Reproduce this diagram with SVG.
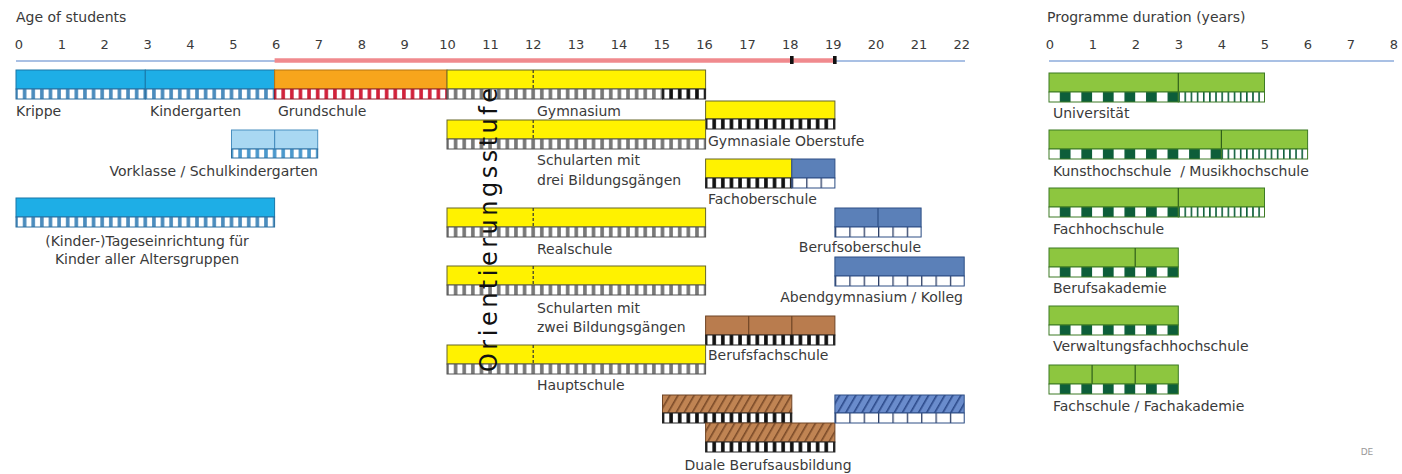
<svg xmlns="http://www.w3.org/2000/svg" width="1402" height="474" viewBox="0 0 1402 474">
<style>
text{font-family:"DejaVu Sans","Liberation Sans",sans-serif;fill:#3a3a3a;font-size:14px}
.ax{font-size:13px;text-anchor:middle}
.lbl{font-size:14px}
.end{text-anchor:end}
.mid{text-anchor:middle}
.cyan{fill:#1eaee6;stroke:#1877a8;stroke-width:1}
.lcyan{fill:#a9d8f2;stroke:#4a90c0;stroke-width:1}
.orange{fill:#f7a51c;stroke:#b87610;stroke-width:1}
.yellow{fill:#fff200;stroke:#66662a;stroke-width:1}
.steel{fill:#5b80b8;stroke:#2e4f85;stroke-width:1}
.brown{fill:#b97c4e;stroke:#6f4526;stroke-width:1}
.green{fill:#8dc63f;stroke:#3d7a25;stroke-width:1}
.s{stroke-width:1}
.sb{stroke:#2c6f9f}
.sr{stroke:#8f1a28}
.sg{stroke:#555}
.sk{stroke:#222}
.sc{stroke:#2e4f85}
.sgr{stroke:#3d7a25}
.dv{stroke-width:1.2}
.dash{stroke:#333;stroke-width:1.2;stroke-dasharray:3 2}
.axl{stroke:#a9c0e4;stroke-width:2;fill:none}
</style>
<defs>
<pattern id="chkBlue" patternUnits="userSpaceOnUse" x="16" y="0" width="8.62" height="10"><rect width="8.62" height="10" fill="#4b8cbd"/><rect x="1.8" width="5" height="10" fill="#fff"/></pattern>
<pattern id="chkLB" patternUnits="userSpaceOnUse" x="16" y="0" width="8.62" height="10"><rect width="8.62" height="10" fill="#4a98cc"/><rect x="1.8" width="5" height="10" fill="#fff"/></pattern>
<pattern id="chkRed" patternUnits="userSpaceOnUse" x="16" y="0" width="8.62" height="10"><rect width="8.62" height="10" fill="#d1213a"/><rect x="1.8" width="5" height="10" fill="#fff"/></pattern>
<pattern id="chkGrey" patternUnits="userSpaceOnUse" x="16" y="0" width="8.62" height="10"><rect width="8.62" height="10" fill="#777"/><rect x="1.8" width="5" height="10" fill="#fff"/></pattern>
<pattern id="chkBlack" patternUnits="userSpaceOnUse" x="16" y="0" width="8.62" height="10"><rect width="8.62" height="10" fill="#111"/><rect x="1.8" width="5" height="10" fill="#fff"/></pattern>
<pattern id="cells" patternUnits="userSpaceOnUse" x="16" y="0" width="14.367" height="10"><rect width="14.367" height="10" fill="#fff"/><rect width="1.3" height="10" fill="#2d3f66"/></pattern>
<pattern id="chkGreen" patternUnits="userSpaceOnUse" x="1049" y="0" width="21.55" height="10"><rect width="21.55" height="10" fill="#fff"/><rect x="10.8" width="10.75" height="10" fill="#0d5e3a"/></pattern>
<pattern id="thinGreen" patternUnits="userSpaceOnUse" x="1049" y="0" width="6.157" height="10"><rect width="6.157" height="10" fill="#fff"/><rect width="1.6" height="10" fill="#0d5e3a"/></pattern>
<pattern id="hatchBrown" patternUnits="userSpaceOnUse" width="7" height="20" patternTransform="rotate(30)"><rect width="7" height="20" fill="#c08453"/><rect width="1.6" height="20" fill="#7a4a28"/></pattern>
<pattern id="hatchBlue" patternUnits="userSpaceOnUse" width="7" height="20" patternTransform="rotate(30)"><rect width="7" height="20" fill="#6a8ccc"/><rect width="1.6" height="20" fill="#2c4a8a"/></pattern>
</defs>

<g id="axis-age">
<text x="16" y="22">Age of students</text>
<text class="ax" x="19" y="49">0</text><text class="ax" x="61.9" y="49">1</text><text class="ax" x="104.7" y="49">2</text><text class="ax" x="147.6" y="49">3</text><text class="ax" x="190.4" y="49">4</text><text class="ax" x="233.3" y="49">5</text><text class="ax" x="276.1" y="49">6</text><text class="ax" x="319" y="49">7</text><text class="ax" x="361.8" y="49">8</text><text class="ax" x="404.7" y="49">9</text><text class="ax" x="447.5" y="49">10</text><text class="ax" x="490.4" y="49">11</text><text class="ax" x="533.2" y="49">12</text><text class="ax" x="576.1" y="49">13</text><text class="ax" x="618.9" y="49">14</text><text class="ax" x="661.8" y="49">15</text><text class="ax" x="704.6" y="49">16</text><text class="ax" x="747.5" y="49">17</text><text class="ax" x="790.3" y="49">18</text><text class="ax" x="833.2" y="49">19</text><text class="ax" x="876" y="49">20</text><text class="ax" x="918.9" y="49">21</text><text class="ax" x="961.7" y="49">22</text>
<line class="axl" x1="16" y1="61" x2="965" y2="61"/>
<line x1="274.6" y1="60.5" x2="834.9" y2="60.5" stroke="#f08a8e" stroke-width="4.5"/>
<rect x="790" y="56" width="3.6" height="8" fill="#111"/>
<rect x="833" y="56" width="3.6" height="8" fill="#111"/>
</g>

<g id="axis-duration">
<text x="1047" y="22">Programme duration (years)</text>
<text class="ax" x="1050" y="49">0</text><text class="ax" x="1093" y="49">1</text><text class="ax" x="1136" y="49">2</text><text class="ax" x="1179" y="49">3</text><text class="ax" x="1222" y="49">4</text><text class="ax" x="1265" y="49">5</text><text class="ax" x="1308" y="49">6</text><text class="ax" x="1351" y="49">7</text><text class="ax" x="1394" y="49">8</text>
<line class="axl" x1="1049" y1="61" x2="1394" y2="61"/>
</g>

<g id="connectors"/>

<g id="krippe">
<rect class="cyan" x="16" y="70" width="129.3" height="19"/>
<rect x="16" y="89" width="129.3" height="10" fill="url(#chkBlue)" class="s sb"/>
<text class="lbl" x="16" y="116">Krippe</text>
</g>
<g id="kindergarten">
<rect class="cyan" x="145.3" y="70" width="129.3" height="19"/>
<rect x="145.3" y="89" width="129.3" height="10" fill="url(#chkBlue)" class="s sb"/>
<text class="lbl" x="150" y="116">Kindergarten</text>
</g>
<g id="grundschule">
<rect class="orange" x="274.6" y="70" width="172.4" height="19"/>
<rect x="274.6" y="89" width="172.4" height="10" fill="url(#chkRed)" class="s sr"/>
<text class="lbl" x="278" y="116">Grundschule</text>
</g>
<g id="gymnasium">
<rect class="yellow" x="447" y="70" width="258.6" height="19"/>
<line class="dash" x1="533.2" y1="70" x2="533.2" y2="89"/>
<rect x="447" y="89" width="215.5" height="10" fill="url(#chkGrey)" class="s sg"/>
<rect x="662.5" y="89" width="43.1" height="10" fill="url(#chkBlack)" class="s sk"/>
<text class="lbl" x="537" y="116">Gymnasium</text>
</g>
<g id="gymnasiale-oberstufe">
<rect class="yellow" x="705.6" y="101" width="129.3" height="18"/>
<rect x="705.6" y="119" width="129.3" height="10" fill="url(#chkBlack)" class="s sk"/>
<text class="lbl" x="708" y="146">Gymnasiale Oberstufe</text>
</g>
<g id="schularten-drei">
<rect class="yellow" x="447" y="120" width="258.6" height="19"/>
<line class="dash" x1="533.2" y1="120" x2="533.2" y2="139"/>
<rect x="447" y="139" width="258.6" height="10" fill="url(#chkGrey)" class="s sg"/>
<text class="lbl" x="537" y="165">Schularten mit</text>
<text class="lbl" x="537" y="185">drei Bildungsgängen</text>
</g>
<g id="vorklasse">
<rect class="lcyan" x="231.5" y="130" width="86.2" height="19"/>
<line x1="274.6" y1="130" x2="274.6" y2="149" stroke="#4a90c0" class="dv"/>
<rect x="231.5" y="149" width="86.2" height="9" fill="url(#chkLB)" class="s sb"/>
<text class="lbl end" x="318" y="176">Vorklasse / Schulkindergarten</text>
</g>
<g id="fachoberschule">
<rect class="yellow" x="705.6" y="159" width="86.2" height="19"/>
<rect class="steel" x="791.8" y="159" width="43.1" height="19"/>
<rect x="705.6" y="178" width="86.2" height="10" fill="url(#chkBlack)" class="s sk"/>
<rect x="791.8" y="178" width="43.1" height="10" fill="url(#cells)" class="s sc"/>
<text class="lbl" x="708" y="204">Fachoberschule</text>
</g>
<g id="tageseinrichtung">
<rect class="cyan" x="16" y="198" width="258.6" height="19"/>
<rect x="16" y="217" width="258.6" height="10" fill="url(#chkBlue)" class="s sb"/>
<text class="lbl mid" x="147" y="246">(Kinder-)Tageseinrichtung für</text>
<text class="lbl mid" x="147" y="264">Kinder aller Altersgruppen</text>
</g>
<g id="realschule">
<rect class="yellow" x="447" y="208" width="258.6" height="19"/>
<line class="dash" x1="533.2" y1="208" x2="533.2" y2="227"/>
<rect x="447" y="227" width="258.6" height="10" fill="url(#chkGrey)" class="s sg"/>
<text class="lbl" x="537" y="254">Realschule</text>
</g>
<g id="berufsoberschule">
<rect class="steel" x="834.9" y="208" width="86.2" height="19"/>
<line x1="878" y1="208" x2="878" y2="227" stroke="#2e4f85" class="dv"/>
<rect x="834.9" y="227" width="86.2" height="10" fill="url(#cells)" class="s sc"/>
<text class="lbl end" x="921" y="252">Berufsoberschule</text>
</g>
<g id="abendgymnasium">
<rect class="steel" x="834.9" y="257" width="129.3" height="19"/>
<rect x="834.9" y="276" width="129.3" height="10" fill="url(#cells)" class="s sc"/>
<text class="lbl end" x="963" y="302">Abendgymnasium / Kolleg</text>
</g>
<g id="schularten-zwei">
<rect class="yellow" x="447" y="266" width="258.6" height="19"/>
<line class="dash" x1="533.2" y1="266" x2="533.2" y2="285"/>
<rect x="447" y="285" width="258.6" height="10" fill="url(#chkGrey)" class="s sg"/>
<text class="lbl" x="537" y="313">Schularten mit</text>
<text class="lbl" x="537" y="332">zwei Bildungsgängen</text>
</g>
<g id="berufsfachschule">
<rect class="brown" x="705.6" y="316" width="129.3" height="19"/>
<line x1="748.7" y1="316" x2="748.7" y2="335" stroke="#6f4526" class="dv"/>
<line x1="791.8" y1="316" x2="791.8" y2="335" stroke="#6f4526" class="dv"/>
<rect x="705.6" y="335" width="129.3" height="10" fill="url(#chkBlack)" class="s sk"/>
<text class="lbl" x="708" y="360">Berufsfachschule</text>
</g>
<g id="hauptschule">
<rect class="yellow" x="447" y="345" width="258.6" height="19"/>
<line class="dash" x1="533.2" y1="345" x2="533.2" y2="364"/>
<rect x="447" y="364" width="258.6" height="10" fill="url(#chkGrey)" class="s sg"/>
<text class="lbl" x="537" y="390">Hauptschule</text>
</g>
<g id="duale-berufsausbildung">
<rect x="662.5" y="395" width="129.3" height="18" fill="url(#hatchBrown)" stroke="#6f4526" class="s"/>
<rect x="662.5" y="413" width="129.3" height="10" fill="url(#chkBlack)" class="s sk"/>
<rect x="705.6" y="423" width="129.3" height="19" fill="url(#hatchBrown)" stroke="#6f4526" class="s"/>
<rect x="705.6" y="442" width="129.3" height="10" fill="url(#chkBlack)" class="s sk"/>
<rect x="834.9" y="395" width="129.3" height="18" fill="url(#hatchBlue)" stroke="#2e4f85" class="s"/>
<rect x="834.9" y="413" width="129.3" height="10" fill="url(#cells)" class="s sc"/>
<text class="lbl mid" x="768" y="470">Duale Berufsausbildung</text>
</g>
<g id="orientierungsstufe">
<text transform="translate(497,372) rotate(-90)" x="0" y="0" style="fill:#111;font-size:24px" textLength="284" lengthAdjust="spacing">Orientierungsstufe</text>
</g>

<g id="universitaet">
<rect class="green" x="1049" y="73" width="215.5" height="19"/>
<line x1="1178.3" y1="73" x2="1178.3" y2="92" stroke="#2f5f1a" class="dv"/>
<rect x="1049" y="92" width="129.3" height="10" fill="url(#chkGreen)" class="s sgr"/>
<rect x="1178.3" y="92" width="86.2" height="10" fill="url(#thinGreen)" class="s sgr"/>
<text class="lbl" x="1053" y="118">Universität</text>
</g>
<g id="kunsthochschule">
<rect class="green" x="1049" y="130" width="258.6" height="19"/>
<line x1="1221.4" y1="130" x2="1221.4" y2="149" stroke="#2f5f1a" class="dv"/>
<rect x="1049" y="149" width="172.4" height="10" fill="url(#chkGreen)" class="s sgr"/>
<rect x="1221.4" y="149" width="86.2" height="10" fill="url(#thinGreen)" class="s sgr"/>
<text class="lbl" x="1053" y="176" xml:space="preserve">Kunsthochschule  / Musikhochschule</text>
</g>
<g id="fachhochschule">
<rect class="green" x="1049" y="188" width="215.5" height="19"/>
<line x1="1178.3" y1="188" x2="1178.3" y2="207" stroke="#2f5f1a" class="dv"/>
<rect x="1049" y="207" width="129.3" height="10" fill="url(#chkGreen)" class="s sgr"/>
<rect x="1178.3" y="207" width="86.2" height="10" fill="url(#thinGreen)" class="s sgr"/>
<text class="lbl" x="1053" y="234">Fachhochschule</text>
</g>
<g id="berufsakademie">
<rect class="green" x="1049" y="248" width="129.3" height="19"/>
<line x1="1135.2" y1="248" x2="1135.2" y2="267" stroke="#2f5f1a" class="dv"/>
<rect x="1049" y="267" width="129.3" height="10" fill="url(#chkGreen)" class="s sgr"/>
<text class="lbl" x="1053" y="293">Berufsakademie</text>
</g>
<g id="verwaltungsfachhochschule">
<rect class="green" x="1049" y="306" width="129.3" height="19"/>
<rect x="1049" y="325" width="129.3" height="10" fill="url(#chkGreen)" class="s sgr"/>
<text class="lbl" x="1053" y="351">Verwaltungsfachhochschule</text>
</g>
<g id="fachschule">
<rect class="green" x="1049" y="365" width="129.3" height="19"/>
<line x1="1092.1" y1="365" x2="1092.1" y2="384" stroke="#2f5f1a" class="dv"/>
<line x1="1135.2" y1="365" x2="1135.2" y2="384" stroke="#2f5f1a" class="dv"/>
<rect x="1049" y="384" width="129.3" height="10" fill="url(#chkGreen)" class="s sgr"/>
<text class="lbl" x="1053" y="411">Fachschule / Fachakademie</text>
</g>
<text x="1367" y="455" style="font-size:9px;fill:#999;text-anchor:middle">DE</text>
</svg>
